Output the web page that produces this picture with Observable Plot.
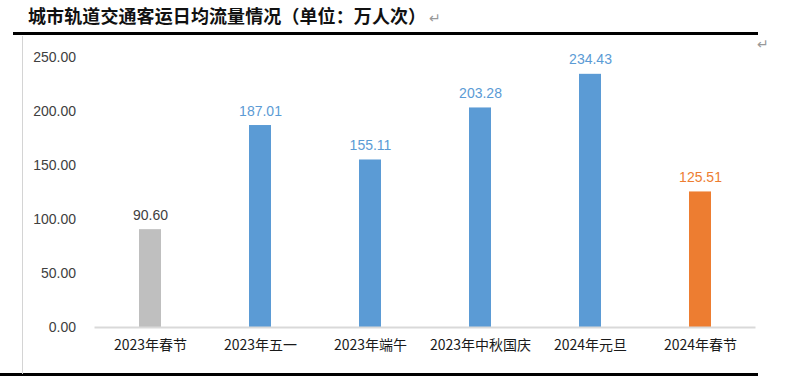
<!DOCTYPE html>
<html><head><meta charset="utf-8">
<script src="https://cdn.jsdelivr.net/npm/d3@7"></script>
<script src="https://cdn.jsdelivr.net/npm/@observablehq/plot@0.6"></script>
<style>
body{margin:0;background:#fff;}
#wrap{position:relative;width:800px;height:391px;overflow:hidden;background:#fff;}
#title{position:absolute;left:28px;top:2px;font-family:"Noto Sans CJK SC",sans-serif;font-weight:700;font-size:18px;color:#111;white-space:nowrap;letter-spacing:0.1px;}
#title span{font-weight:400;color:#999;font-size:14px;margin-left:3px;}
.hl{position:absolute;background:#000;}
#vl{position:absolute;left:22px;top:36px;width:1px;height:338px;background:#d4d4d4;}
#ret{position:absolute;left:757px;top:36px;color:#999;font-size:14px;font-family:"DejaVu Sans",sans-serif;}
#chart{position:absolute;left:0;top:0;}
</style></head>
<body>
<div id="wrap">
<div id="title">城市轨道交通客运日均流量情况（单位：万人次）<span>↵</span></div>
<div class="hl" style="left:13px;top:32px;width:745px;height:3px;"></div>
<div class="hl" style="left:0px;top:373px;width:758px;height:3px;"></div>
<div id="vl"></div>
<div id="ret">↵</div>
<div id="chart"></div>
</div>
<script>
const categories = ["2023年春节","2023年五一","2023年端午","2023年中秋国庆","2024年元旦","2024年春节"];
const values = [90.60, 187.01, 155.11, 203.28, 234.43, 125.51];
const barColors = ["#BFBFBF","#5B9BD5","#5B9BD5","#5B9BD5","#5B9BD5","#ED7D31"];
const labelColors = ["#404040","#5B9BD5","#5B9BD5","#5B9BD5","#5B9BD5","#ED7D31"];
const yTicks = [0,50,100,150,200,250];

const data = categories.map((c,i)=>({cat:c, v:values[i], fill:barColors[i], lc:labelColors[i]}));

const plot = Plot.plot({
  width: 800, height: 391,
  marginTop: 57, marginBottom: 64, marginLeft: 94.5, marginRight: 44.5,
  style: {fontFamily: "'Liberation Sans','Noto Sans CJK SC',sans-serif", fontSize: "14px", background: "transparent", color: "#262626"},
  x: {domain: categories, paddingInner: 0.8, paddingOuter: 0.4, label: null},
  y: {domain: [0,250], label: null},
  marks: [
    Plot.axisY({ticks: yTicks, tickFormat: d => d.toFixed(2), tickSize: 0, tickPadding: 19, fontSize: 14, color: "#404040"}),
    Plot.axisX({tickSize: 0, tickPadding: 13, fontSize: 14, color: "#1a1a1a", fontFamily: "'Noto Sans CJK SC',sans-serif"}),
    Plot.barY(data, {x: "cat", y: "v", fill: d => d.fill}),
    Plot.ruleY([0], {stroke: "#d9d9d9", strokeWidth: 2}),
    Plot.text(data, {x: "cat", y: "v", text: d => d.v.toFixed(2), fill: d => d.lc, dy: -10, lineAnchor: "bottom", fontSize: 14})
  ]
});
document.getElementById("chart").appendChild(plot);
</script>
</body></html>
